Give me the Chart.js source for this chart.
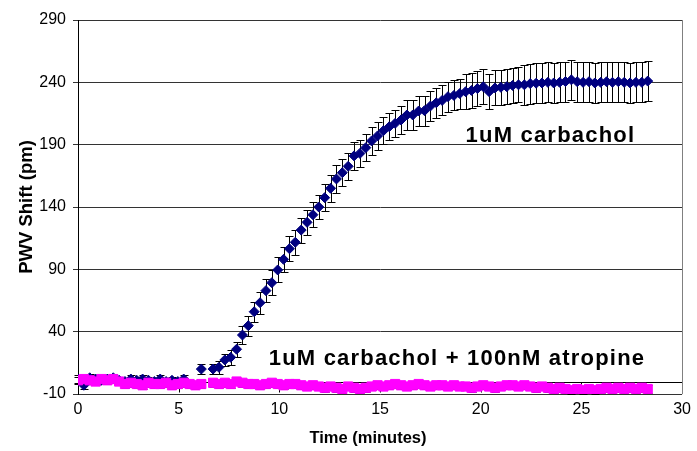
<!DOCTYPE html>
<html>
<head>
<meta charset="utf-8">
<script src="https://cdn.jsdelivr.net/npm/chart.js@4.4.1/dist/chart.umd.min.js"></script>
<style>
  html, body { margin: 0; padding: 0; background: #fff; }
  canvas { display: block; }
</style>
</head>
<body>
<canvas id="pwvChart" width="697" height="451"></canvas>
<script>
// PWV shift over time, one reading every 17.5 s
const sampleStep = 17.5 / 60;
const xTicks = [0, 5, 10, 15, 20, 25, 30];
const yTicks = [-10, 40, 90, 140, 190, 240, 290];

// 1uM carbachol (null = no reading)
const carbachol = [
  2, -3, 3, 2, 1, 2, 3, 1, 0, 2, 1, 2, 1, 0, 2, 0, 1, 0, 2,
  null, null, 10, null, 10,
  11.4, 17.3, 19.4, 25.9, 37.3, 44.8, 56, 63.2, 72.9, 79.3,
  89.5, 98, 106.5, 111.7, 121.5, 127.7, 133.8, 140, 147.5, 155,
  162.5, 167.5, 172.6, 181, 183, 187.6, 193, 197, 201.2, 204.4,
  207.1, 209.8, 213.8, 213.8, 217, 217.3, 221, 223.6,
  225.5, 228.5, 229.5, 231, 232.5, 233.5, 235, 236.5, 232.5, 235.5,
  236, 236.5, 237.5, 238, 238, 239, 239.3, 239.5, 240, 239.5,
  240, 240.6, 242, 240.5, 240, 240.5, 239.5, 240, 240.5, 240,
  240.5, 240, 239.5, 240, 240, 241
];
const carbacholErr = [
  3, 3, 3, 3, 3, 3, 3, 3, 3, 3, 3, 3, 3, 3, 3, 3, 3, 3, 3,
  0, 0, 4, 0, 4,
  5, 5, 6, 6, 7, 8, 8, 9, 9, 10,
  10, 10, 10, 10, 10, 10, 10, 10, 11, 11,
  11, 11, 11, 11, 11, 11, 11, 11, 11, 11,
  11, 11, 12, 12, 12, 12, 12, 12,
  12, 12, 12, 12, 14, 14, 14, 14, 14, 14,
  14, 14, 14, 14, 16, 16, 16, 16, 16, 16,
  16, 16, 16, 16, 16, 16, 16, 16, 16, 16,
  16, 16, 16, 16, 16, 16
];

// 1uM carbachol + 100nM atropine
const atropine = [
  1, 2, 1, 0, 2, 1, 2, 0,
  -2, -1, -2, -3, -1, -2, -2, -1, -3, -2, -1, -2, -3, -2,
  null,
  -1, -2, -1, -2, 0, -1, -2, -2, -3, -2, -1, -2, -3, -2, -2, -3, -4, -3,
  -4, -5, -4, -5, -6, -4, -5, -6, -5, -4, -3, -4,
  -3, -2, -3, -4, -3, -2, -3, -4, -3, -3, -4, -3, -4,
  -4, -5, -4, -3, -4, -5, -4, -3, -3, -4,
  -3, -4, -5, -4, -5, -6, -5, -6, -7,
  -6, -7, -6, -7, -6, -5, -6, -5, -6, -5, -6, -5, -6
];
const atropineErr = 3;

const times = carbachol.map((_, i) => +(i * sampleStep).toFixed(3));

function toPoints(vals, errs) {
  const pts = [];
  vals.forEach((v, i) => {
    if (v === null) return;
    pts.push({ x: times[i], y: v, e: Array.isArray(errs) ? errs[i] : errs });
  });
  return pts;
}

const FONT = '"Liberation Sans", Arial, sans-serif';

// Error bars drawn just before each dataset's markers
const errorBars = {
  id: 'errorBars',
  beforeDatasetDraw(chart, args) {
    const { ctx, scales: { x, y } } = chart;
    const pts = chart.data.datasets[args.index].data;
    ctx.save();
    ctx.strokeStyle = '#000';
    ctx.lineWidth = 1;
    ctx.beginPath();
    pts.forEach(p => {
      if (!p.e) return;
      const px = Math.round(x.getPixelForValue(p.x)) + 0.5;
      const top = Math.round(y.getPixelForValue(p.y + p.e)) + 0.5;
      const bot = Math.round(y.getPixelForValue(p.y - p.e)) + 0.5;
      ctx.moveTo(px, top); ctx.lineTo(px, bot);
      ctx.moveTo(px - 4, top); ctx.lineTo(px + 4, top);
      ctx.moveTo(px - 4, bot); ctx.lineTo(px + 4, bot);
    });
    ctx.stroke();
    ctx.restore();
  }
};

// Axis line at zero, x tick marks, frame, labels and titles
const extras = {
  id: 'extras',
  beforeDatasetsDraw(chart) {
    const { ctx, chartArea: a, scales: { x, y } } = chart;
    ctx.save();
    ctx.strokeStyle = '#000';
    ctx.lineWidth = 1;
    const y0 = Math.round(y.getPixelForValue(0)) + 0.5;
    ctx.beginPath();
    ctx.moveTo(a.left, y0); ctx.lineTo(a.right, y0);
    xTicks.forEach(t => {
      const px = Math.round(x.getPixelForValue(t)) + 0.5;
      ctx.moveTo(px, y0); ctx.lineTo(px, y0 + 10);
    });
    ctx.stroke();
    ctx.strokeStyle = '#808080';
    ctx.beginPath();
    ctx.moveTo(Math.round(a.right) + 0.5, a.top);
    ctx.lineTo(Math.round(a.right) + 0.5, a.bottom);
    ctx.stroke();
    ctx.restore();
  },
  afterDraw(chart) {
    const { ctx, scales: { x, y } } = chart;
    ctx.save();
    ctx.fillStyle = '#000';
    ctx.textAlign = 'center';
    ctx.textBaseline = 'alphabetic';
    ctx.font = 'bold 22px ' + FONT;
    ctx.letterSpacing = '1.2px';
    ctx.fillText('1uM carbachol', x.getPixelForValue(23.46), y.getPixelForValue(192.4));
    ctx.fillText('1uM carbachol + 100nM atropine', x.getPixelForValue(18.82), y.getPixelForValue(13.3));
    ctx.letterSpacing = '0px';

    ctx.textBaseline = 'middle';
    ctx.font = 'bold 16.5px ' + FONT;
    ctx.fillText('Time (minutes)', 368, 438);

    ctx.translate(27, 207);
    ctx.rotate(-Math.PI / 2);
    ctx.font = 'bold 18.5px ' + FONT;
    ctx.fillText('PWV Shift (pm)', 0, 0);
    ctx.restore();
  }
};

new Chart(document.getElementById('pwvChart'), {
  type: 'scatter',
  data: {
    datasets: [
      {
        label: '1uM carbachol',
        data: toPoints(carbachol, carbacholErr),
        pointStyle: 'rectRot',
        pointRadius: 5,
        pointBackgroundColor: '#000080',
        pointBorderColor: '#000080',
        pointBorderWidth: 1,
        showLine: false,
        order: 1
      },
      {
        label: '1uM carbachol + 100nM atropine',
        data: toPoints(atropine, atropineErr),
        pointStyle: 'rect',
        pointRadius: 6.5,
        pointBackgroundColor: '#FF00FF',
        pointBorderColor: '#FF00FF',
        pointBorderWidth: 1,
        showLine: false,
        order: 0
      }
    ]
  },
  options: {
    responsive: false,
    animation: false,
    events: [],
    layout: { padding: { left: 0, right: 11, top: 20, bottom: 0 } },
    plugins: {
      legend: { display: false },
      tooltip: { enabled: false }
    },
    scales: {
      x: {
        type: 'linear',
        min: 0,
        max: 30,
        afterBuildTicks: s => { s.ticks = xTicks.map(v => ({ value: v })); },
        afterFit: s => { s.height = 57; },
        grid: { display: false, drawTicks: false },
        border: { display: false },
        ticks: {
          color: '#000',
          padding: 6,
          maxRotation: 0,
          font: { family: FONT, size: 16 }
        }
      },
      y: {
        type: 'linear',
        min: -10,
        max: 290,
        afterBuildTicks: s => { s.ticks = yTicks.map(v => ({ value: v })); },
        afterFit: s => { s.width = 78; },
        grid: { color: '#333', tickLength: 5 },
        border: { color: '#000' },
        ticks: {
          color: '#000',
          padding: 7,
          font: { family: FONT, size: 16 }
        }
      }
    }
  },
  plugins: [errorBars, extras]
});
</script>
</body>
</html>
